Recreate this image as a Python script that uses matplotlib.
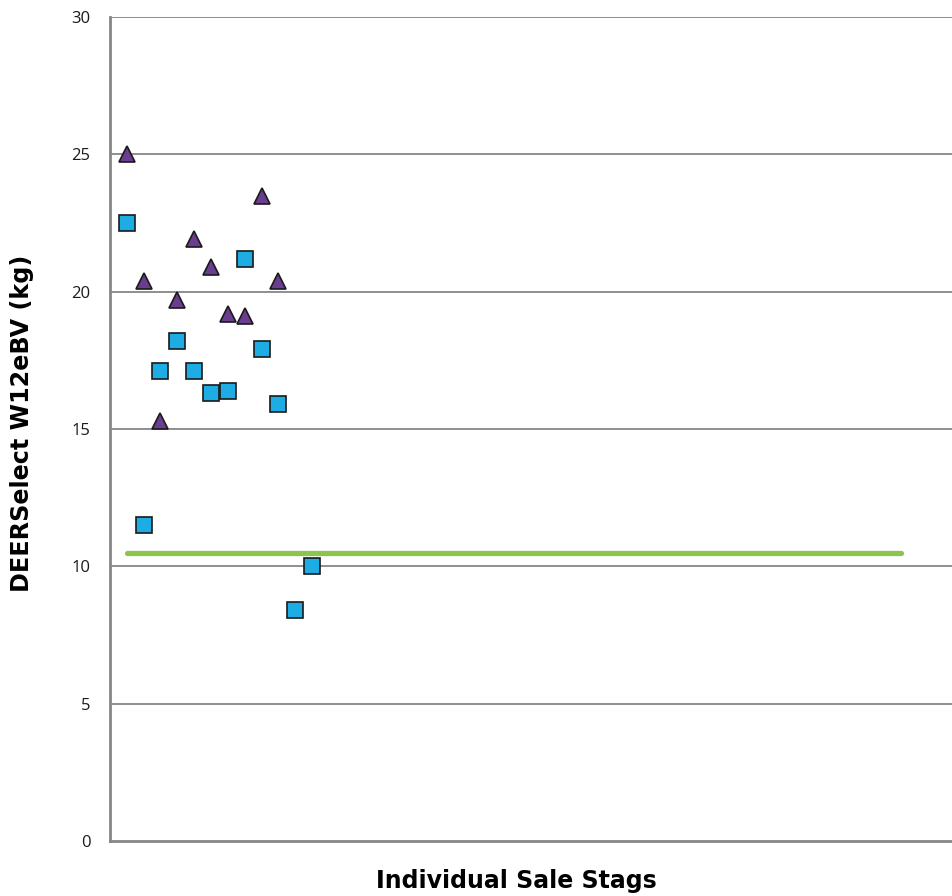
import numpy as np
import matplotlib
matplotlib.use("Agg")
import matplotlib.pyplot as plt

# stag index along the x axis
tri_x = [1, 2, 3, 4, 5, 6, 7, 8, 9, 10]
tri_y = [25.0, 20.4, 15.3, 19.7, 21.9, 20.9, 19.2, 19.1, 23.5, 20.4]

sq_x = [1, 2, 3, 4, 5, 6, 7, 8, 9, 10, 11, 12]
sq_y = [22.5, 11.5, 17.1, 18.2, 17.1, 16.3, 16.4, 21.2, 17.9, 15.9, 8.4, 10.0]

# benchmark line
bench_x = [1, 47]
bench_y = [10.5, 10.5]

yticks = [0, 5, 10, 15, 20, 25, 30]

fig = plt.figure(figsize=(9.52, 8.96), dpi=100)
ax = fig.add_axes([0.1155, 0.0614, 0.8845, 0.9196])

grid_c = '#868686'
for t in yticks[1:]:
    ax.axhline(t, color=grid_c, lw=1.3, zorder=1)

ax.plot(bench_x, bench_y, color='#8DC44E', lw=3.8, solid_capstyle='round', zorder=2)

ax.plot(sq_x, sq_y, 's', ms=11, mfc='#1DACE3', mec='#1a1a1a', mew=1.2,
        linestyle='none', zorder=3)
ax.plot(tri_x, tri_y, '^', ms=12, mfc='#6A3D8F', mec='#1a1a1a', mew=1.2,
        linestyle='none', zorder=3)

ax.set_xlim(0, 50)
ax.set_ylim(0, 30)
ax.set_xticks([])
ax.set_yticks(yticks)
ax.set_yticklabels([str(t) for t in yticks], fontsize=12, fontfamily='Open Sans',
                   color='#1a1a1a')
ax.tick_params(axis='y', length=0, pad=14)

for s in ['top', 'right']:
    ax.spines[s].set_visible(False)
for s in ['left', 'bottom']:
    ax.spines[s].set_color(grid_c)
    ax.spines[s].set_linewidth(2)

ax.set_xlabel('Individual Sale Stags', fontsize=17, fontweight='bold',
              fontfamily='DejaVu Sans', va='center', ha='center')
ax.xaxis.set_label_coords(0.483, -0.0485)
ax.set_ylabel('DEERSelect W12eBV (kg)', fontsize=17.2, fontweight='bold',
              fontfamily='DejaVu Sans', va='center', ha='center')
ax.yaxis.set_label_coords(-0.1045, 0.507)

fig.savefig('out.png', dpi=100)
